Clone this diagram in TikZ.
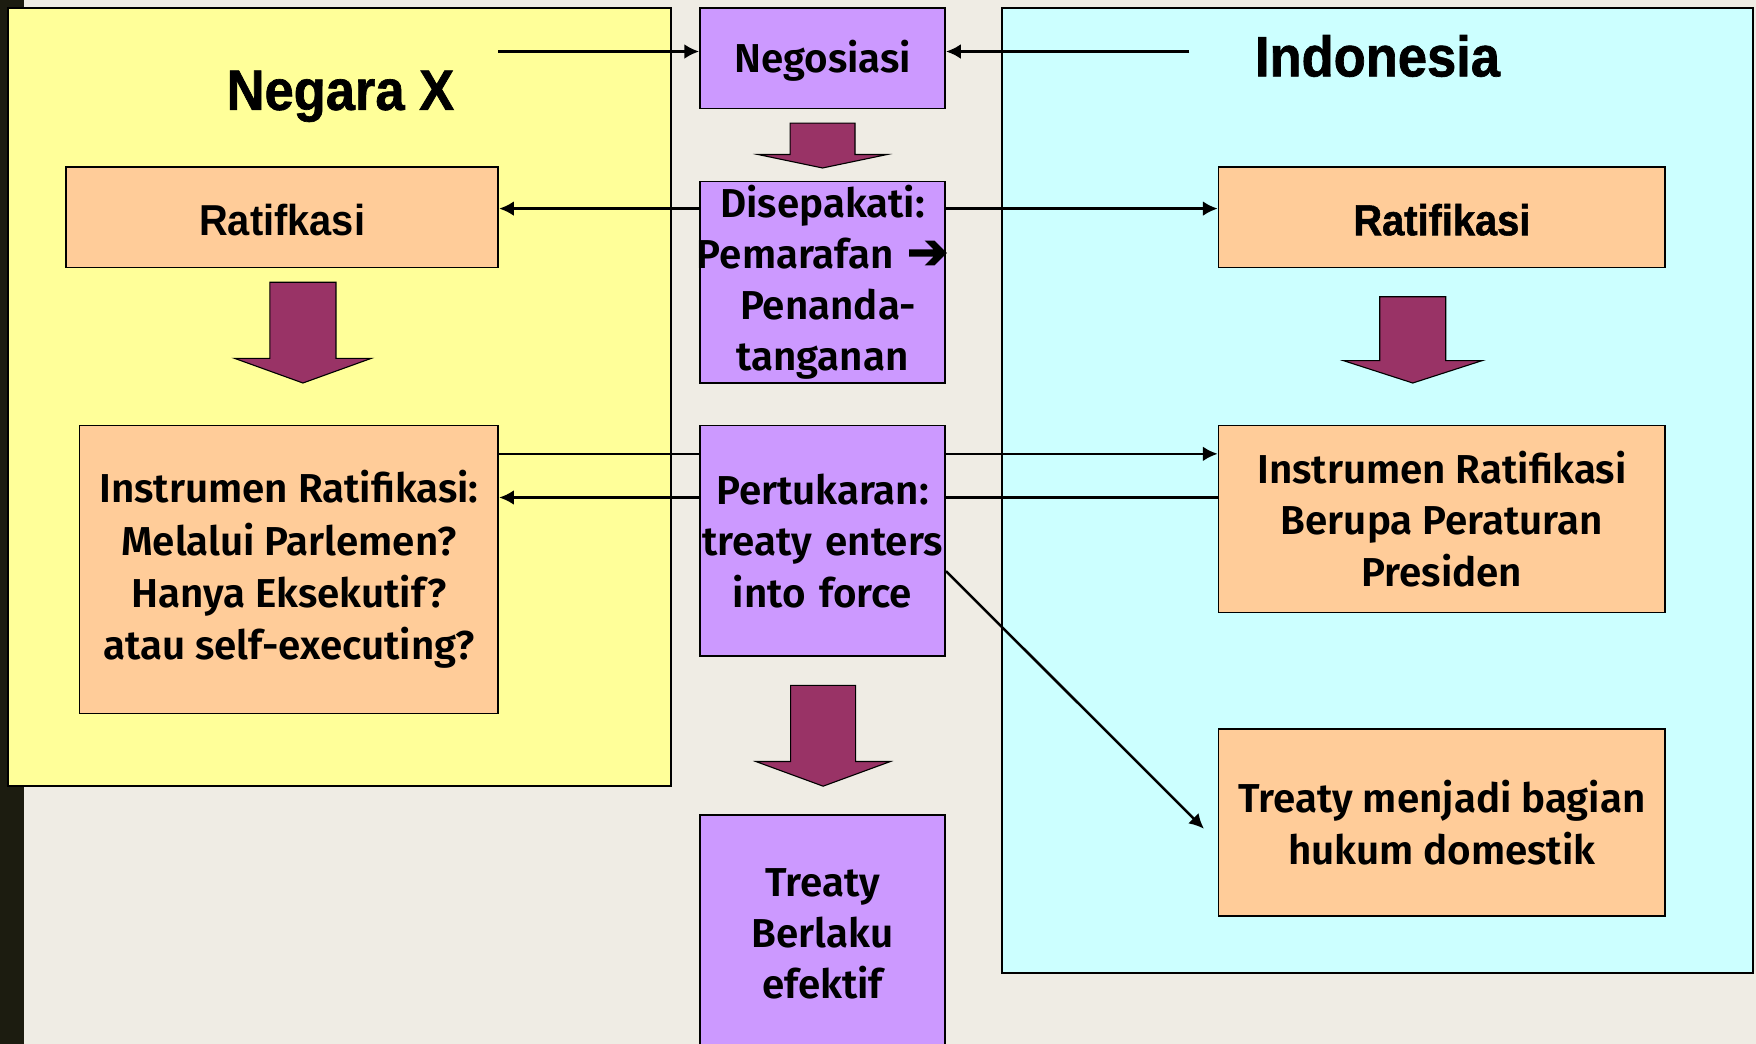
\documentclass[tikz,border=0pt]{standalone}
\usepackage{fontspec}
\setmainfont{Fira Sans}[BoldFont={Fira Sans SemiBold}]
\newfontfamily\narrowfont[FakeStretch=0.92]{Liberation Sans}
\newfontfamily\titlefont[FakeStretch=0.92, FakeBold=1.2]{Liberation Sans}
\newfontfamily\symfont[FakeBold=3]{DejaVu Sans}
\usetikzlibrary{calc,arrows.meta}
\definecolor{pageBg}{RGB}{239,236,228}
\definecolor{stripDark}{RGB}{28,28,16}
\definecolor{negaraYellow}{RGB}{255,255,153}
\definecolor{indoCyan}{RGB}{204,255,255}
\definecolor{stepPurple}{RGB}{204,153,255}
\definecolor{stepOrange}{RGB}{255,204,153}
\definecolor{arrowMaroon}{RGB}{153,51,102}

\begin{document}
\begin{tikzpicture}
[x=0.02cm, y=-0.02cm,
 lineDecorate/.style={-{Latex[length=7.5pt,width=7.5pt]},line width=0.45mm},
 lineBare/.style={line width=0.45mm},
 regionDecorate/.style={draw=black,line width=0.3mm},
 boxText/.style={font=\bfseries\fontsize{20.5}{26}\selectfont, align=center},
 purpleBox/.style={boxText, draw, line width=0.3mm, fill=stepPurple, minimum width=4.38cm, text width=4.3cm, inner xsep=0.04cm, inner ysep=0pt},
 orangeBox/.style={boxText, draw, line width=0.3mm, fill=stepOrange},
 titleText/.style={font=\titlefont\bfseries\fontsize{29}{34}\selectfont},
 bigArrow/.style={draw=black, line width=0.2mm, fill=arrowMaroon}]

 \useasboundingbox (0,0) rectangle (1568,932);
 \fill[pageBg] (0,0) rectangle (1568,932);
 \fill[stripDark] (0,0) rectangle (21,932);

 % the two states
 \draw[regionDecorate, fill=negaraYellow] (7,7) rectangle (599,702);
 \draw[regionDecorate, fill=indoCyan] (895,7) rectangle (1565,869);
 \node (titleX) at (304,86) [titleText] {Negara X};
 \node (titleIndo) at (1230,50) [titleText] {Indonesia};

 % steps in the middle
 \node (neg) at (734.5,52) [purpleBox, minimum height=1.8cm, text height=19.5pt] {Negosiasi};
 \node (sepakat) at (734.5,252) [purpleBox, minimum height=3.6cm]
   {Disepakati:\\ \makebox[\linewidth]{Pemarafan {\symfont\mdseries\fontsize{25}{26}\selectfont ➔}}\\ \hspace*{0.2cm}Penanda-\\ tanganan};
 \node (tukar) at (734.5,483) [purpleBox, minimum height=4.12cm]
   {Pertukaran:\\ \makebox[\linewidth]{treaty enters}\\ into force};
 \node (berlaku) at (734.5,834) [purpleBox, minimum height=4.24cm] {Treaty\\ Berlaku\\ efektif};

 % Negara X side
 \node (ratX) at (252,194) [orangeBox, minimum width=7.72cm, minimum height=1.8cm, text height=18.5pt,
   font=\narrowfont\bfseries\fontsize{22}{26}\selectfont] {Ratifkasi};
 \node (instX) at (258,508.5) [orangeBox, minimum width=7.48cm, minimum height=5.14cm,
   font=\bfseries\fontsize{20.5}{26.6}\selectfont]
   {Instrumen Ratifikasi:\\ Melalui Parlemen?\\ Hanya Eksekutif?\\ atau self-executing?};

 % Indonesia side
 \node (ratIndo) at (1287.5,194) [orangeBox, minimum width=7.98cm, minimum height=1.8cm, text height=18.5pt,
   font=\titlefont\bfseries\fontsize{22}{26}\selectfont] {Ratifikasi};
 \node (instIndo) at (1287.5,463.5) [orangeBox, minimum width=7.98cm, minimum height=3.34cm]
   {Instrumen Ratifikasi\\ Berupa Peraturan\\ Presiden};
 \node (domestik) at (1287.5,734.5) [orangeBox, minimum width=7.98cm, minimum height=3.34cm]
   {Treaty menjadi bagian\\ hukum domestik};

 % block arrows
 \foreach \cx/\ytop/\yneck/\ytip/\bw/\hw in {
734.5/110/138/150/29/57.5,
270.5/252/320/342/29.5/61,
1261.5/265/322/342/29.5/62,
735/612/680/702/29/60
 }
 {
          \draw[bigArrow] (\cx-\bw,\ytop) -- (\cx+\bw,\ytop) -- (\cx+\bw,\yneck) -- (\cx+\hw,\yneck)
            -- (\cx,\ytip) -- (\cx-\hw,\yneck) -- (\cx-\bw,\yneck) -- cycle;
 }

 \coordinate (negFromX) at (445,46);
 \coordinate (negFromIndo) at (1062,46);
 \coordinate (domEnd) at (1075,740);

 \draw[lineDecorate] (negFromX) -- (negFromX -| neg.west);
 \draw[lineDecorate] (negFromIndo) -- (negFromIndo -| neg.east);
 \draw[lineDecorate] ([yshift=-0.5cm]sepakat.north west) -- ([yshift=-0.5cm]sepakat.north west -| ratX.east);
 \draw[lineDecorate] ([yshift=-0.5cm]sepakat.north east) -- ([yshift=-0.5cm]sepakat.north east -| ratIndo.west);
 \draw[lineBare] ([yshift=-0.52cm]instX.north east) -- ([yshift=-0.52cm]instX.north east -| tukar.west);
 \draw[lineDecorate] ([yshift=-0.52cm]tukar.north east) -- ([yshift=-0.52cm]tukar.north east -| instIndo.west);
 \draw[lineBare] ([yshift=-1.3cm]instIndo.north west) -- ([yshift=-1.3cm]instIndo.north west -| tukar.east);
 \draw[lineDecorate] ([yshift=-1.3cm]tukar.north west) -- ([yshift=-1.3cm]tukar.north west -| instX.east);
 \draw[lineDecorate] ([yshift=-0.54cm]tukar.east) -- (domEnd);
\end{tikzpicture}
\end{document}
